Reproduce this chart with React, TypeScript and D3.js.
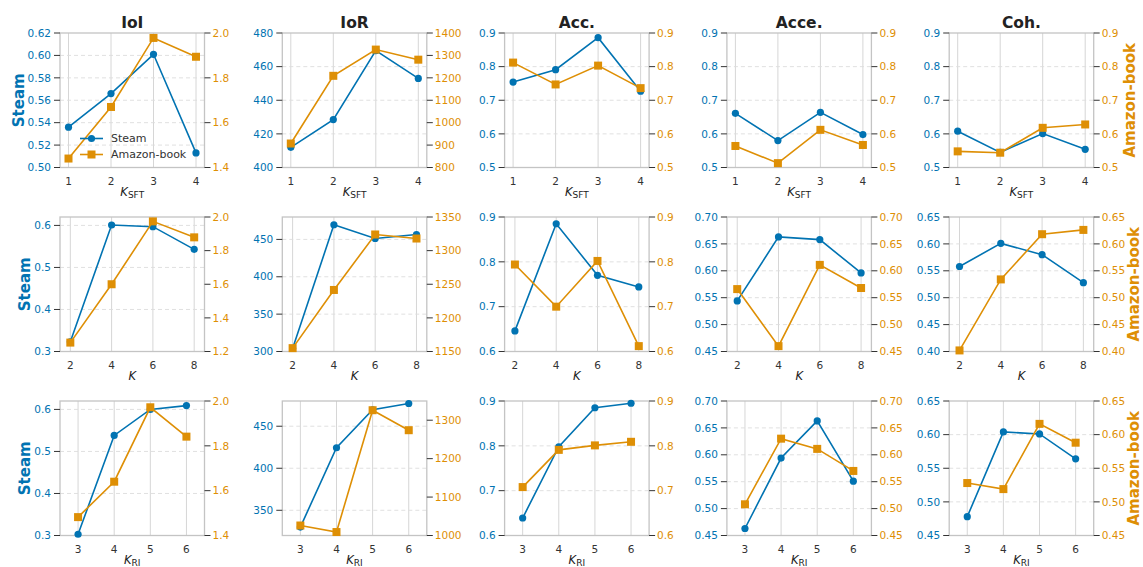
import React from "react";
import * as d3 from "d3";

const BLUE = "#0173b2";
const ORANGE = "#de8f05";

const metrics = ["IoI", "IoR", "Acc.", "Acce.", "Coh."];

const kSft = [1, 2, 3, 4];
const kGroup = [2, 4, 6, 8];
const kRi = [3, 4, 5, 6];

// row 1: K_SFT
const steamSft = [
  [0.536, 0.566, 0.601, 0.513],
  [412, 428.5, 469.5, 453],
  [0.754, 0.791, 0.886, 0.727],
  [0.661, 0.58, 0.664, 0.598],
  [0.608, 0.545, 0.601, 0.554],
];
const amazonSft = [
  [1.44, 1.67, 1.978, 1.894],
  [907, 1209, 1326, 1281],
  [0.812, 0.747, 0.803, 0.736],
  [0.564, 0.513, 0.612, 0.567],
  [0.548, 0.544, 0.618, 0.628],
];

// row 2: K
const steamK = [
  [0.323, 0.601, 0.597, 0.543],
  [304, 469.6, 451.3, 456.6],
  [0.646, 0.885, 0.77, 0.744],
  [0.544, 0.663, 0.658, 0.596],
  [0.558, 0.601, 0.58, 0.528],
];
const amazonK = [
  [1.253, 1.6, 1.974, 1.879],
  [1155, 1241.5, 1324, 1318],
  [0.794, 0.7, 0.802, 0.612],
  [0.566, 0.46, 0.611, 0.568],
  [0.402, 0.534, 0.618, 0.626],
];

// row 3: K_RI
const steamRi = [
  [0.303, 0.538, 0.6, 0.609],
  [330, 424.4, 469.6, 477],
  [0.639, 0.798, 0.885, 0.895],
  [0.463, 0.594, 0.663, 0.551],
  [0.478, 0.604, 0.601, 0.564],
];
const amazonRi = [
  [1.482, 1.64, 1.972, 1.841],
  [1026, 1009, 1326, 1274],
  [0.708, 0.791, 0.801, 0.809],
  [0.508, 0.63, 0.611, 0.57],
  [0.528, 0.519, 0.616, 0.588],
];

// axis ticks (left = Steam, right = Amazon-book)
const leftTicks = [
  [
    [0.5, 0.52, 0.54, 0.56, 0.58, 0.6, 0.62],
    [400, 420, 440, 460, 480],
    [0.5, 0.6, 0.7, 0.8, 0.9],
    [0.5, 0.6, 0.7, 0.8, 0.9],
    [0.5, 0.6, 0.7, 0.8, 0.9],
  ],
  [
    [0.3, 0.4, 0.5, 0.6],
    [300, 350, 400, 450],
    [0.6, 0.7, 0.8, 0.9],
    [0.45, 0.5, 0.55, 0.6, 0.65, 0.7],
    [0.4, 0.45, 0.5, 0.55, 0.6, 0.65],
  ],
  [
    [0.3, 0.4, 0.5, 0.6],
    [350, 400, 450],
    [0.6, 0.7, 0.8, 0.9],
    [0.45, 0.5, 0.55, 0.6, 0.65, 0.7],
    [0.45, 0.5, 0.55, 0.6, 0.65],
  ],
];
const rightTicks = [
  [
    [1.4, 1.6, 1.8, 2.0],
    [800, 900, 1000, 1100, 1200, 1300, 1400],
    [0.5, 0.6, 0.7, 0.8, 0.9],
    [0.5, 0.6, 0.7, 0.8, 0.9],
    [0.5, 0.6, 0.7, 0.8, 0.9],
  ],
  [
    [1.2, 1.4, 1.6, 1.8, 2.0],
    [1150, 1200, 1250, 1300, 1350],
    [0.6, 0.7, 0.8, 0.9],
    [0.45, 0.5, 0.55, 0.6, 0.65, 0.7],
    [0.4, 0.45, 0.5, 0.55, 0.6, 0.65],
  ],
  [
    [1.4, 1.6, 1.8, 2.0],
    [1000, 1100, 1200, 1300],
    [0.6, 0.7, 0.8, 0.9],
    [0.45, 0.5, 0.55, 0.6, 0.65, 0.7],
    [0.45, 0.5, 0.55, 0.6, 0.65],
  ],
];
const leftDomains = [
  [[0.5, 0.62], [400, 480], [0.5, 0.9], [0.5, 0.9], [0.5, 0.9]],
  [[0.3, 0.62], [300, 480], [0.6, 0.9], [0.45, 0.7], [0.4, 0.65]],
  [[0.3, 0.62], [320, 480], [0.6, 0.9], [0.45, 0.7], [0.45, 0.65]],
];
const rightDomains = [
  [[1.4, 2.0], [800, 1400], [0.5, 0.9], [0.5, 0.9], [0.5, 0.9]],
  [[1.2, 2.0], [1150, 1350], [0.6, 0.9], [0.45, 0.7], [0.4, 0.65]],
  [[1.4, 2.0], [1000, 1350], [0.6, 0.9], [0.45, 0.7], [0.45, 0.65]],
];

const rowX = [kSft, kGroup, kRi];
const rowSteam = [steamSft, steamK, steamRi];
const rowAmazon = [amazonSft, amazonK, amazonRi];
const rowXLabel = [["K", "SFT"], ["K", ""], ["K", "RI"]];
const xPad = [0.2, 0.5, 0.5];

const W = 1143;
const H = 567;
const panelW = 144.5;
const panelH = 134.5;
const colLeft = (c: number) => 60 + c * 222.3;
const rowTop = [33, 217, 401];
const steamLabelX = [23.5, 29.5, 29.5];
const amazonLabelX = [1135, 1139, 1139];
const FONT = "DejaVu Sans, sans-serif";

const fmtFor = (ticks: number[]) => {
  const step = +(ticks[1] - ticks[0]).toPrecision(6);
  const p = d3.precisionFixed(step);
  return d3.format(`.${p}f`);
};

function Panel({ r, c }: { r: number; c: number }) {
  const x0 = colLeft(c);
  const y0 = rowTop[r];
  const xs = rowX[r];
  const x = d3
    .scaleLinear()
    .domain([xs[0] - xPad[r], xs[xs.length - 1] + xPad[r]])
    .range([x0, x0 + panelW]);
  const yL = d3.scaleLinear().domain(leftDomains[r][c]).range([y0 + panelH, y0]);
  const yR = d3.scaleLinear().domain(rightDomains[r][c]).range([y0 + panelH, y0]);
  const lt = leftTicks[r][c];
  const rt = rightTicks[r][c];
  const fL = fmtFor(lt);
  const fR = fmtFor(rt);
  const steam = rowSteam[r][c];
  const amazon = rowAmazon[r][c];
  const lineL = d3
    .line<number>()
    .x((_, i) => x(xs[i]))
    .y((d) => yL(d));
  const lineR = d3
    .line<number>()
    .x((_, i) => x(xs[i]))
    .y((d) => yR(d));
  const bottom = y0 + panelH;
  const right = x0 + panelW;
  const [lab, sub] = rowXLabel[r];

  return (
    <g>
      {/* grid */}
      {xs.map((v) => (
        <line key={"vg" + v} x1={x(v)} x2={x(v)} y1={y0} y2={bottom} stroke="#d6d6d6" strokeWidth={1} />
      ))}
      {lt
        .filter((v) => yL(v) > y0 + 1 && yL(v) < bottom - 1)
        .map((v) => (
          <line key={"hg" + v} x1={x0} x2={right} y1={yL(v)} y2={yL(v)} stroke="#dcdcdc" strokeWidth={0.9} strokeDasharray="4,3" />
        ))}
      {/* frame */}
      <rect x={x0} y={y0} width={panelW} height={panelH} fill="none" stroke="#c4c4c4" strokeWidth={1.3} />
      {/* left axis */}
      {lt.map((v) => (
        <g key={"lt" + v}>
          <line x1={x0 - 6} x2={x0} y1={yL(v)} y2={yL(v)} stroke="#333" strokeWidth={1} />
          <text x={x0 - 9} y={yL(v)} dy="0.35em" textAnchor="end" fontSize={10.5} fill={BLUE} fontFamily={FONT}>
            {fL(v)}
          </text>
        </g>
      ))}
      {/* right axis */}
      {rt.map((v) => (
        <g key={"rt" + v}>
          <line x1={right} x2={right + 6} y1={yR(v)} y2={yR(v)} stroke="#333" strokeWidth={1} />
          <text x={right + 8} y={yR(v)} dy="0.35em" textAnchor="start" fontSize={10.5} fill={ORANGE} fontFamily={FONT}>
            {fR(v)}
          </text>
        </g>
      ))}
      {/* x ticks */}
      {xs.map((v) => (
        <text key={"xt" + v} x={x(v)} y={bottom + 17} textAnchor="middle" fontSize={10.5} fill="#333" fontFamily={FONT}>
          {v}
        </text>
      ))}
      <text x={(x0 + right) / 2} y={bottom + 28.5} textAnchor="middle" fontSize={11.5} fill="#222" fontFamily={FONT}>
        <tspan fontStyle="italic">{lab}</tspan>
        {sub && (
          <tspan fontSize={9} dy={2}>
            {sub}
          </tspan>
        )}
      </text>
      {/* series */}
      <path d={lineL(steam) || ""} fill="none" stroke={BLUE} strokeWidth={1.6} />
      {steam.map((v, i) => (
        <circle key={"s" + i} cx={x(xs[i])} cy={yL(v)} r={3.6} fill={BLUE} />
      ))}
      <path d={lineR(amazon) || ""} fill="none" stroke={ORANGE} strokeWidth={1.6} />
      {amazon.map((v, i) => (
        <rect key={"a" + i} x={x(xs[i]) - 4} y={yR(v) - 4} width={8} height={8} fill={ORANGE} />
      ))}
      {r === 0 && (
        <text x={(x0 + right) / 2} y={28} textAnchor="middle" fontSize={15.5} fontWeight="bold" fill="#222" fontFamily={FONT}>
          {metrics[c]}
        </text>
      )}
      {c === 0 && (
        <text
          transform={`translate(${steamLabelX[r]},${y0 + panelH / 2}) rotate(-90)`}
          textAnchor="middle"
          fontSize={15}
          fontWeight="bold"
          fill={BLUE}
          fontFamily={FONT}
        >
          Steam
        </text>
      )}
      {c === 4 && (
        <text
          transform={`translate(${amazonLabelX[r]},${y0 + panelH / 2}) rotate(-90)`}
          textAnchor="middle"
          fontSize={15}
          fontWeight="bold"
          fill={ORANGE}
          fontFamily={FONT}
        >
          Amazon-book
        </text>
      )}
    </g>
  );
}

function Legend() {
  const lx = 80;
  const items = [
    { name: "Steam", color: BLUE, y: 138.5, shape: "circle" },
    { name: "Amazon-book", color: ORANGE, y: 154.5, shape: "square" },
  ];
  return (
    <g>
      {items.map((it) => (
        <g key={it.name}>
          <line x1={lx} x2={lx + 23} y1={it.y} y2={it.y} stroke={it.color} strokeWidth={1.6} />
          {it.shape === "circle" ? (
            <circle cx={lx + 11.5} cy={it.y} r={3.6} fill={it.color} />
          ) : (
            <rect x={lx + 7.5} y={it.y - 4} width={8} height={8} fill={it.color} />
          )}
          <text x={lx + 31} y={it.y} dy="0.35em" fontSize={11} fill="#333" fontFamily={FONT}>
            {it.name}
          </text>
        </g>
      ))}
    </g>
  );
}

export default function App() {
  const panels = [];
  for (let r = 0; r < 3; r++) {
    for (let c = 0; c < 5; c++) {
      panels.push(<Panel key={`${r}-${c}`} r={r} c={c} />);
    }
  }
  return (
    <svg
      width={W}
      height={H}
      viewBox={`0 0 ${W} ${H}`}
      style={{ position: "absolute", left: 0, top: 0, background: "#fff" }}
    >
      <rect width={W} height={H} fill="#fff" />
      {panels}
      <Legend />
    </svg>
  );
}
